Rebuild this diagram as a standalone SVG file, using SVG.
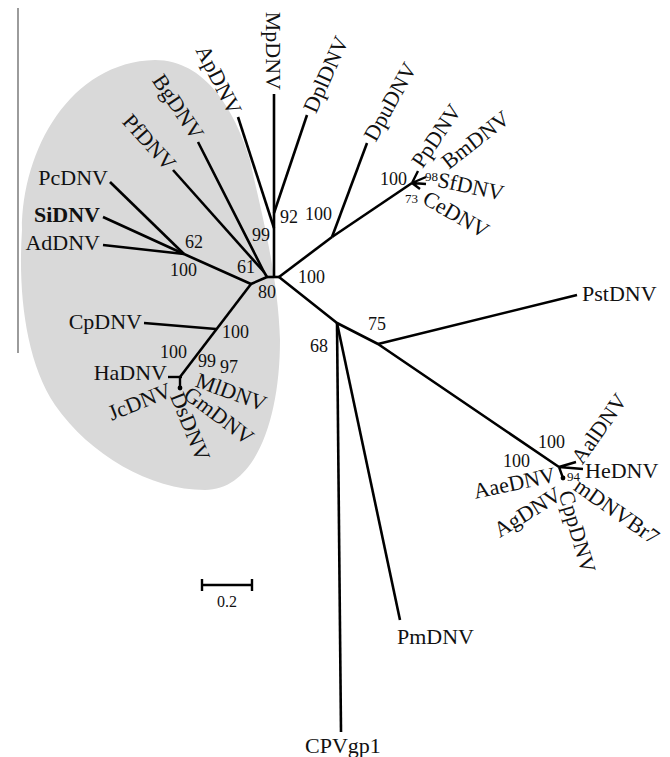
<svg xmlns="http://www.w3.org/2000/svg" width="670" height="757" viewBox="0 0 670 757">
  <style>
    .br { stroke: #000; stroke-width: 2.6; fill: none; stroke-linecap: butt; stroke-linejoin: round; }
    .st { stroke: #000; stroke-width: 2.4; fill: none; }
    text { font-family: "Liberation Serif", "Times New Roman", serif; fill: #111; }
    .lbl { font-size: 22px; }
    .bs { font-size: 18px; }
    .bss { font-size: 13px; }
    .rc { dominant-baseline: auto; }
  </style>
  <rect width="670" height="757" fill="#fff"/>

  <!-- highlighted clade -->
  <path id="clade" d="M155,60 C205,60 235,110 250,160 C258,200 278,270 280,340 C280,420 255,490 205,490 C150,490 90,455 55,405 C25,360 18,290 22,230 C22,150 70,62 155,60 Z" fill="#d9d9d9"/>
  <line x1="18" y1="8" x2="18" y2="353" stroke="#666" stroke-width="1.3"/>

  <!-- branches -->
  <g id="connectors" class="br">
    <path d="M267,277 H279"/>
    <path d="M274,94 V277"/>
    <path d="M238,117 L274,228"/>
    <path d="M307,115 L274,213"/>
    <path d="M198,142 L264,272 L267,277"/>
    <path d="M173,170 L264,272"/>
    <path d="M267,277 L251,284 L184,254"/>
    <path d="M184,254 L110,182"/>
    <path d="M184,254 L103,217"/>
    <path d="M184,254 L103,245"/>
    <path d="M251,284 L180,377"/>
    <path d="M216,329 L144,323"/>
    <path d="M168,377 H182" class="st"/>
    <path d="M180,377 V388" class="st"/>
    <path d="M279,277 L332,237"/>
    <path d="M332,237 L367,143"/>
    <path d="M332,237 L412,183"/>
    <path d="M412,183 L418,171 M412,183 L426,177 M412,183 L426,184 M412,183 L420,189" class="st"/>
    <path d="M279,277 L337,323 L378,344 L559,467"/>
    <path d="M337,323 L341,732"/>
    <path d="M337,323 L400,620"/>
    <path d="M378,344 L577,295"/>
    <path d="M559,467 L576,462 M559,467 L583,469 M559,467 L563,478" class="st"/>
    <circle cx="180" cy="388" r="2.4" fill="#000" stroke="none"/>
    <circle cx="563" cy="478" r="2.4" fill="#000" stroke="none"/>
  </g>

  <!-- taxa -->
  <g id="PcDNV"><text class="lbl" x="108" y="185" text-anchor="end">PcDNV</text></g>
  <g id="SiDNV"><text class="lbl" x="100" y="222" text-anchor="end" font-weight="bold">SiDNV</text></g>
  <g id="AdDNV"><text class="lbl" x="100" y="250" text-anchor="end">AdDNV</text></g>
  <g id="CpDNV"><text class="lbl" x="142" y="329" text-anchor="end">CpDNV</text></g>
  <g id="HaDNV"><text class="lbl" x="167" y="380" text-anchor="end">HaDNV</text></g>
  <g id="JcDNV"><text class="lbl" transform="translate(170,389) rotate(-22)" dy=".35em" text-anchor="end">JcDNV</text></g>
  <g id="DsDNV"><text class="lbl" transform="translate(177,393) rotate(68)" dy=".35em">DsDNV</text></g>
  <g id="GmDNV"><text class="lbl" transform="translate(187,391) rotate(37)" dy=".35em">GmDNV</text></g>
  <g id="MlDNV"><text class="lbl" transform="translate(197,379) rotate(20)" dy=".35em">MlDNV</text></g>
  <g id="PfDNV"><text class="lbl" transform="translate(172,167) rotate(48)" dy=".35em" text-anchor="end">PfDNV</text></g>
  <g id="BgDNV"><text class="lbl" transform="translate(199,137) rotate(56)" dy=".35em" text-anchor="end">BgDNV</text></g>
  <g id="ApDNV"><text class="lbl" transform="translate(236,113) rotate(63)" dy=".35em" text-anchor="end">ApDNV</text></g>
  <g id="MpDNV"><text class="lbl" transform="translate(274,90) rotate(90)" dy=".35em" text-anchor="end">MpDNV</text></g>
  <g id="DplDNV"><text class="lbl" transform="translate(309,111) rotate(-66)" dy=".35em">DplDNV</text></g>
  <g id="DpuDNV"><text class="lbl" transform="translate(369,139) rotate(-61)" dy=".35em">DpuDNV</text></g>
  <g id="PpDNV"><text class="lbl" transform="translate(416,165) rotate(-56)" dy=".35em">PpDNV</text></g>
  <g id="BmDNV"><text class="lbl" transform="translate(444,164) rotate(-38)" dy=".35em">BmDNV</text></g>
  <g id="SfDNV"><text class="lbl" transform="translate(438,179) rotate(12)" dy=".35em">SfDNV</text></g>
  <g id="CeDNV"><text class="lbl" transform="translate(425,196) rotate(30)" dy=".35em">CeDNV</text></g>
  <g id="PstDNV"><text class="lbl" x="582" y="301">PstDNV</text></g>
  <g id="AalDNV"><text class="lbl" transform="translate(576,461) rotate(-55)" dy=".35em">AalDNV</text></g>
  <g id="HeDNV"><text class="lbl" x="585" y="478">HeDNV</text></g>
  <g id="mDNVBr7"><text class="lbl" transform="translate(577,483) rotate(35)" dy=".35em">mDNVBr7</text></g>
  <g id="CppDNV"><text class="lbl" transform="translate(566,491) rotate(74)" dy=".35em">CppDNV</text></g>
  <g id="AgDNV"><text class="lbl" transform="translate(559,492) rotate(-32)" dy=".35em" text-anchor="end">AgDNV</text></g>
  <g id="AaeDNV"><text class="lbl" transform="translate(555,474) rotate(-12)" dy=".35em" text-anchor="end">AaeDNV</text></g>
  <g id="PmDNV"><text class="lbl" x="397" y="644">PmDNV</text></g>
  <g id="CPVgp1"><text class="lbl" x="305" y="753">CPVgp1</text></g>

  <!-- bootstrap support -->
  <g id="support">
    <text class="bs" x="280" y="223">92</text>
    <text class="bs" x="252" y="241">99</text>
    <text class="bs" x="185" y="248">62</text>
    <text class="bs" x="170" y="276">100</text>
    <text class="bs" x="237" y="273">61</text>
    <text class="bs" x="258" y="298">80</text>
    <text class="bs" x="298" y="283">100</text>
    <text class="bs" x="305" y="220">100</text>
    <text class="bs" x="380" y="185">100</text>
    <text class="bss" x="425" y="181">98</text>
    <text class="bss" x="405" y="203">73</text>
    <text class="bs" x="368" y="330">75</text>
    <text class="bs" x="310" y="352">68</text>
    <text class="bs" x="222" y="338">100</text>
    <text class="bs" x="160" y="358">100</text>
    <text class="bs" x="198" y="367">99</text>
    <text class="bs" x="220" y="373">97</text>
    <text class="bs" x="538" y="448">100</text>
    <text class="bs" x="503" y="467">100</text>
    <text class="bss" x="567" y="481">94</text>
  </g>

  <!-- scale bar -->
  <g id="scale">
    <path d="M202,585 H252 M202,579 V591 M252,579 V591" stroke="#000" stroke-width="2.4" fill="none"/>
    <text x="227" y="607" font-size="16" text-anchor="middle">0.2</text>
  </g>
</svg>
